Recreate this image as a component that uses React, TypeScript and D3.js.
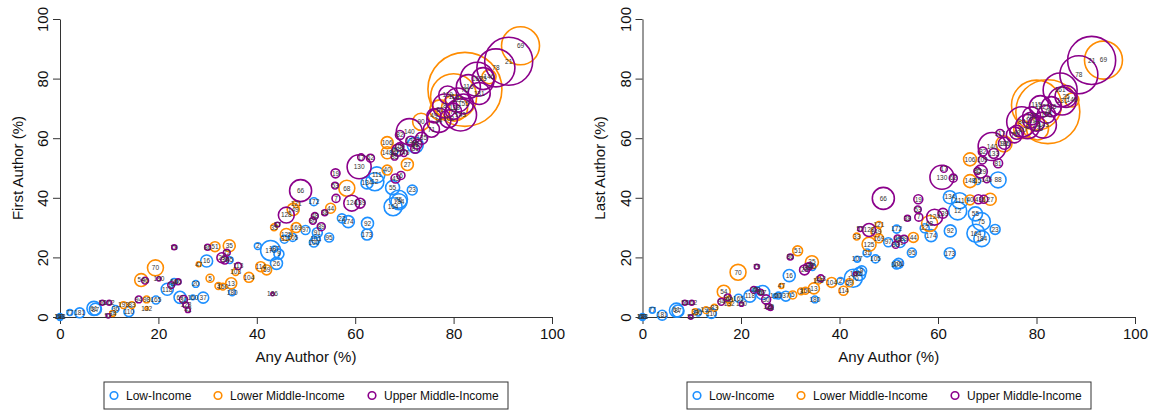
import { useEffect, useRef } from "react";
import * as d3 from "d3";

// [country id, any author %, first author %, last author %, first-author papers, last-author papers]
type Row = [number, number, number, number, number, number];

const lowIncome: Row[] = [
  [141, 0, 0, 0, 8, 8],
  [183, 0, 0, 0, 4, 4],
  [63, 0, 0, 0, 3, 3],
  [77, 2.0, 1.5, 2.3, 6, 6],
  [181, 4.0, 1.4, 0.6, 17, 17],
  [61, 6.9, 2.9, 2.3, 34, 34],
  [87, 7.2, 2.6, 2.0, 25, 25],
  [36, 11.3, 2.7, 1.5, 8, 8],
  [110, 14.0, 1.8, 1.2, 17, 17],
  [165, 19.5, 5.7, 6.3, 11, 11],
  [118, 21.8, 9.3, 7.0, 25, 25],
  [67, 24.4, 6.6, 8.2, 25, 34],
  [58, 23.2, 11.8, 9.0, 8, 8],
  [160, 27.0, 6.6, 7.0, 4, 4],
  [20, 27.6, 11.1, 7.2, 8, 8],
  [37, 29.1, 6.5, 7.0, 21, 17],
  [16, 29.8, 18.8, 13.9, 25, 25],
  [45, 34.5, 19.1, 16.8, 8, 8],
  [180, 35.0, 8.3, 5.9, 8, 8],
  [2, 40.2, 23.8, 12.1, 8, 8],
  [170, 42.8, 22.3, 13.0, 69, 56],
  [26, 44.0, 18.0, 14.4, 25, 29],
  [9, 44.5, 21.1, 15.5, 17, 17],
  [107, 43.6, 22.8, 19.4, 6, 6],
  [31, 45.6, 26.1, 21.5, 11, 11],
  [105, 47.3, 26.7, 19.5, 11, 11],
  [172, 51.6, 38.7, 29.5, 11, 11],
  [97, 49.9, 29.2, 25.1, 14, 14],
  [101, 52.0, 26.1, 18.0, 14, 17],
  [100, 51.6, 25.0, 17.6, 14, 14],
  [95, 54.7, 26.7, 21.6, 14, 14],
  [91, 52.3, 28.3, 25.0, 17, 17],
  [22, 57.3, 33.1, 29.8, 14, 14],
  [174, 58.6, 32.0, 27.3, 25, 25],
  [92, 62.5, 31.4, 28.9, 25, 25],
  [173, 62.4, 27.7, 21.4, 21, 21],
  [134, 62.4, 45.0, 40.2, 25, 29],
  [111, 64.4, 47.7, 39.0, 44, 44],
  [12, 64.0, 45.4, 35.6, 56, 56],
  [55, 67.6, 43.4, 34.6, 34, 34],
  [75, 68.8, 39.5, 32.0, 56, 56],
  [164, 67.7, 37.0, 28.1, 56, 56],
  [184, 68.9, 38.7, 26.3, 44, 44],
  [23, 71.6, 42.6, 29.4, 17, 17],
  [88, 72.2, 57.7, 46.0, 44, 44],
  [15, 68.0, 55.5, 45.6, 8, 8],
];

const lowerMiddleIncome: Row[] = [
  [70, 19.4, 16.5, 15.0, 44, 44],
  [54, 16.5, 12.4, 8.5, 29, 29],
  [51, 31.5, 23.6, 22.2, 17, 17],
  [35, 34.4, 23.9, 18.4, 25, 29],
  [13, 34.8, 11.3, 9.6, 21, 21],
  [5, 30.5, 13.0, 7.4, 11, 11],
  [103, 35.7, 15.1, 12.2, 8, 8],
  [104, 38.4, 13.3, 11.6, 17, 17],
  [114, 40.8, 16.9, 8.8, 17, 14],
  [59, 42.0, 15.8, 11.5, 17, 11],
  [47, 28.2, 17.7, 10.4, 4, 4],
  [150, 33.1, 10.2, 8.8, 8, 8],
  [3, 32.2, 10.4, 8.6, 8, 8],
  [193, 12.9, 4.0, 2.3, 8, 8],
  [83, 14.6, 4.0, 3.1, 8, 8],
  [34, 10.7, 1.2, 1.8, 6, 6],
  [132, 17.6, 2.9, 4.3, 2, 2],
  [98, 17.6, 5.9, 5.7, 8, 8],
  [121, 48.0, 37.9, 30.9, 8, 8],
  [149, 47.4, 36.1, 28.6, 25, 17],
  [125, 46.0, 27.7, 24.4, 25, 34],
  [169, 48.0, 30.0, 26.4, 17, 14],
  [33, 43.5, 30.1, 27.0, 8, 8],
  [44, 55.0, 36.5, 26.7, 17, 17],
  [68, 58.3, 43.2, 31.4, 44, 44],
  [40, 66.5, 49.3, 39.3, 17, 17],
  [27, 70.6, 51.2, 39.5, 25, 25],
  [148, 66.5, 55.1, 45.6, 25, 29],
  [106, 66.5, 58.5, 52.9, 25, 29],
  [90, 73.4, 65.5, 58.1, 50, 44],
  [138, 80.2, 70.1, 63.1, 117, 84],
  [60, 77.2, 69.5, 62.9, 69, 56],
  [115, 80.0, 73.9, 71.1, 367, 433],
  [76, 82.3, 76.4, 68.9, 948, 709],
  [69, 93.6, 91.0, 86.2, 250, 250],
  [146, 87.2, 80.6, 72.8, 34, 34],
];

const upperMiddleIncome: Row[] = [
  [66, 48.9, 42.4, 39.8, 84, 84],
  [130, 60.8, 50.4, 46.9, 100, 100],
  [124, 59.3, 38.2, 33.5, 44, 44],
  [19, 56.0, 48.2, 39.5, 14, 14],
  [53, 55.9, 44.1, 36.1, 8, 8],
  [7, 56.1, 39.8, 33.5, 11, 11],
  [38, 53.8, 35.0, 33.1, 6, 6],
  [48, 51.8, 33.9, 26.4, 8, 8],
  [89, 53.1, 30.3, 26.1, 11, 11],
  [80, 51.4, 32.3, 24.2, 8, 8],
  [139, 61.0, 38.2, 34.8, 17, 17],
  [17, 61.2, 53.6, 49.7, 8, 8],
  [62, 63.1, 53.3, 46.6, 11, 11],
  [129, 68.7, 56.0, 48.8, 25, 29],
  [43, 68.2, 46.5, 39.5, 14, 14],
  [6, 69.3, 47.5, 39.5, 11, 11],
  [145, 69.9, 55.0, 46.2, 8, 8],
  [128, 46.0, 34.2, 29.2, 44, 29],
  [57, 44.2, 31.0, 29.5, 4, 4],
  [186, 43.2, 7.7, 14.5, 2, 2],
  [79, 23.2, 23.4, 16.9, 4, 4],
  [190, 20.1, 12.8, 4.3, 3, 3],
  [96, 17.3, 12.2, 6.6, 8, 8],
  [14, 22.6, 10.7, 9.1, 8, 8],
  [46, 24.0, 11.8, 8.3, 6, 6],
  [30, 25.1, 5.9, 5.9, 11, 14],
  [123, 25.6, 4.0, 3.5, 6, 6],
  [42, 26.0, 2.3, 3.0, 4, 4],
  [29, 32.9, 19.9, 15.8, 17, 17],
  [39, 33.5, 19.1, 16.7, 11, 11],
  [72, 33.9, 21.6, 17.1, 8, 8],
  [86, 30.0, 23.4, 20.1, 6, 6],
  [113, 36.2, 17.1, 13.0, 8, 8],
  [56, 8.6, 4.8, 4.8, 4, 4],
  [162, 10.0, 4.8, 4.8, 4, 4],
  [52, 9.8, 0.4, 0.0, 3, 3],
  [94, 16.0, 5.9, 5.1, 8, 8],
  [140, 71.0, 62.2, 57.2, 117, 136],
  [117, 72.6, 58.0, 61.6, 17, 11],
  [135, 73.5, 60.0, 58.3, 25, 25],
  [71, 75.5, 63.0, 61.1, 44, 44],
  [84, 77.0, 66.0, 65.5, 100, 156],
  [8, 78.2, 70.8, 63.9, 100, 100],
  [143, 81.4, 67.8, 64.4, 178, 117],
  [122, 80.8, 72.8, 70.6, 100, 84],
  [116, 83.0, 77.3, 70.6, 100, 69],
  [131, 85.2, 75.0, 72.5, 84, 136],
  [161, 84.8, 79.8, 76.2, 200, 200],
  [78, 88.6, 83.6, 81.3, 250, 250],
  [21, 91.2, 85.8, 86.1, 399, 399],
  [49, 76.0, 67.5, 62.0, 34, 34],
  [102, 79.0, 66.5, 67.5, 56, 56],
  [73, 80.0, 69.0, 65.0, 44, 44],
  [155, 82.0, 71.5, 68.0, 69, 56],
  [25, 86.0, 80.0, 74.0, 84, 84],
  [119, 78.8, 74.5, 66.0, 56, 44],
  [82, 69.1, 61.1, 55.5, 14, 14],
  [109, 69.0, 57.1, 52.7, 11, 11],
  [133, 71.3, 59.0, 54.9, 17, 17],
  [81, 72.2, 56.5, 51.6, 14, 14],
  [85, 68.0, 53.8, 49.0, 8, 8],
];

const axisTicks = [0, 20, 40, 60, 80, 100];
const incomeGroups = ["Low-Income", "Lower Middle-Income", "Upper Middle-Income"];
const groupColors = ["#1E90FF", "#FF8C00", "#8B008B"];
const groupRows = [lowIncome, lowerMiddleIncome, upperMiddleIncome];

const WIDTH = 1151;
const HEIGHT = 410;
const FONT = "'Liberation Sans', Arial, Helvetica, sans-serif";

const panels = [
  { which: "first", left: 60, right: 552, yTitle: "First Author (%)", titleX: 23, legendX: 104 },
  { which: "last", left: 642.5, right: 1135, yTitle: "Last Author (%)", titleX: 605, legendX: 687 },
];

export default function App() {
  const svgRef = useRef<SVGSVGElement>(null);

  useEffect(() => {
    if (!svgRef.current) return;
    const svg = d3.select(svgRef.current);
    svg.selectAll("*").remove();

    svg.append("rect").attr("width", WIDTH).attr("height", HEIGHT).attr("fill", "white");

    const r = d3.scaleSqrt().domain([0, 1000]).range([0, 38]);

    panels.forEach((p) => {
      const x = d3.scaleLinear().domain([0, 100]).range([p.left, p.right]);
      const y = d3.scaleLinear().domain([0, 100]).range([317, 19]);
      const g = svg.append("g");

      // axes, R style: line only spans the ticks
      const xa = g
        .append("g")
        .attr("transform", `translate(0,${y(0)})`)
        .call(d3.axisBottom(x).tickValues(axisTicks).tickSize(7).tickSizeOuter(0).tickPadding(4));
      xa.attr("font-size", 15).attr("font-family", FONT);
      xa.selectAll(".domain, .tick line").attr("stroke", "#333");
      xa.selectAll("text").attr("fill", "#111");

      const ya = g
        .append("g")
        .attr("transform", `translate(${x(0)},0)`)
        .call(d3.axisLeft(y).tickValues(axisTicks).tickSize(7).tickSizeOuter(0));
      ya.attr("font-size", 15).attr("font-family", FONT);
      ya.selectAll(".domain, .tick line").attr("stroke", "#333");
      ya.selectAll("text")
        .attr("x", 0)
        .attr("dy", 0)
        .attr("text-anchor", "middle")
        .attr("fill", "#111")
        .attr("transform", "translate(-12,0) rotate(-90)");

      // bubbles
      const pts = groupRows.flatMap((rows, gi) =>
        rows.map((d) => ({
          id: d[0],
          any: d[1],
          share: p.which === "first" ? d[2] : d[3],
          n: p.which === "first" ? d[4] : d[5],
          group: gi,
        }))
      );

      g.append("g")
        .selectAll("circle")
        .data(pts)
        .join("circle")
        .attr("cx", (d) => x(d.any))
        .attr("cy", (d) => y(d.share))
        .attr("r", (d) => r(d.n))
        .attr("fill", "none")
        .attr("stroke", (d) => groupColors[d.group])
        .attr("stroke-width", 1.6);

      g.append("g")
        .selectAll("text")
        .data(pts)
        .join("text")
        .attr("x", (d) => x(d.any))
        .attr("y", (d) => y(d.share))
        .attr("dy", "0.35em")
        .attr("text-anchor", "middle")
        .attr("font-family", FONT)
        .attr("font-size", 6.5)
        .attr("fill", "#333")
        .text((d) => d.id);

      // axis titles
      g.append("text")
        .attr("x", (p.left + p.right) / 2)
        .attr("y", 362)
        .attr("text-anchor", "middle")
        .attr("font-family", FONT)
        .attr("font-size", 15)
        .attr("fill", "#111")
        .text("Any Author (%)");

      g.append("text")
        .attr("transform", `translate(${p.titleX},${y(50)}) rotate(-90)`)
        .attr("text-anchor", "middle")
        .attr("font-family", FONT)
        .attr("font-size", 15)
        .attr("fill", "#111")
        .text(p.yTitle);

      // legend
      const lg = g.append("g").attr("transform", `translate(${p.legendX},382)`);
      lg.append("rect")
        .attr("width", 404)
        .attr("height", 27)
        .attr("fill", "white")
        .attr("stroke", "#333");
      const itemX = [10, 114, 268];
      incomeGroups.forEach((name, i) => {
        lg.append("circle")
          .attr("cx", itemX[i])
          .attr("cy", 13.5)
          .attr("r", 3.8)
          .attr("fill", "none")
          .attr("stroke", groupColors[i])
          .attr("stroke-width", 1.6);
        lg.append("text")
          .attr("x", itemX[i] + 12)
          .attr("y", 13.5)
          .attr("dy", "0.35em")
          .attr("font-family", FONT)
          .attr("font-size", 12)
          .attr("fill", "#111")
          .text(name);
      });
    });

    return () => {
      svg.selectAll("*").remove();
    };
  }, []);

  return (
    <svg
      ref={svgRef}
      width={WIDTH}
      height={HEIGHT}
      style={{ position: "absolute", left: 0, top: 0 }}
    />
  );
}
